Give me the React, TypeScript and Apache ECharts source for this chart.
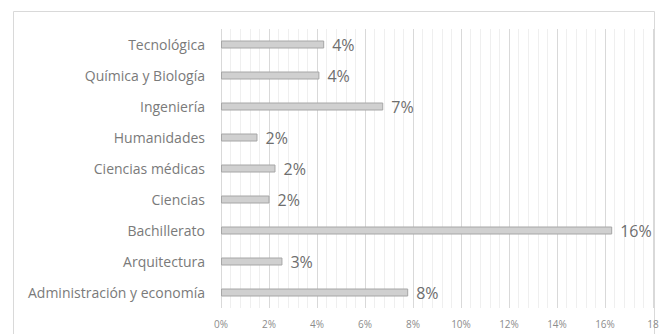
import React, { useEffect, useRef } from "react";
import * as echarts from "echarts";

const categories = [
  "Tecnológica",
  "Química y Biología",
  "Ingeniería",
  "Humanidades",
  "Ciencias médicas",
  "Ciencias",
  "Bachillerato",
  "Arquitectura",
  "Administración y economía",
];
const values = [4.3, 4.1, 6.76, 1.52, 2.27, 2.02, 16.3, 2.56, 7.8];
const axisMax = 18;
const axisInterval = 2;

export default function App() {
  const ref = useRef<HTMLDivElement>(null);
  useEffect(() => {
    if (!ref.current) return;
    const chart = echarts.init(ref.current, undefined, { renderer: "svg" });
    chart.setOption({
      animation: false,
      backgroundColor: "#ffffff",
      graphic: [
        {
          type: "rect",
          shape: { x: 13.5, y: 11.5, width: 641, height: 330 },
          style: { fill: "none", stroke: "#d9d9d9", lineWidth: 1 },
          z: -10,
        },
      ],
      grid: { left: 221, right: 13, top: 29, bottom: 26, containLabel: false },
      xAxis: {
        type: "value",
        min: 0,
        max: axisMax,
        interval: axisInterval,
        axisLine: { show: false },
        axisTick: { show: false },
        axisLabel: {
          color: "#8c8c8c",
          fontSize: 10,
          fontFamily: "Open Sans",
          margin: 11,
          formatter: (v: number) => (v === axisMax ? String(v) : v + "%"),
        },
        splitLine: { show: true, lineStyle: { color: "#d9d9d9", width: 1 } },
        minorTick: { show: false, splitNumber: 5 },
        minorSplitLine: { show: true, lineStyle: { color: "#efefef", width: 1 } },
      },
      yAxis: {
        type: "category",
        data: categories,
        inverse: true,
        axisLine: { show: false },
        axisTick: { show: false },
        axisLabel: {
          color: "#7a7a7a",
          fontSize: 14,
          fontFamily: "Open Sans",
          margin: 16,
        },
      },
      series: [
        {
          type: "bar",
          data: values,
          barWidth: 8,
          itemStyle: { color: "#d0d0d0", borderColor: "#a6a6a6", borderWidth: 1 },
          label: {
            show: true,
            position: "right",
            distance: 8,
            color: "#6e6e6e",
            fontSize: 16,
            fontFamily: "Open Sans",
            formatter: (p: any) => Math.round(p.value) + "%",
          },
        },
      ],
    });
    return () => chart.dispose();
  }, []);
  return (
    <div
      ref={ref}
      style={{ position: "fixed", left: 0, top: 0, width: 666, height: 334 }}
    />
  );
}
